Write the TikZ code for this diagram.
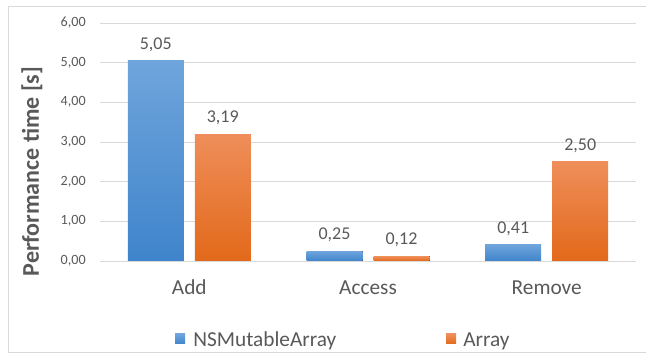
\documentclass[tikz,border=0pt]{standalone}
\usepackage{fontspec}
\setmainfont{Carlito}

\definecolor{txtgray}{HTML}{595959}
\definecolor{gridgray}{HTML}{D9D9D9}
\definecolor{bluetop}{HTML}{6FA5DC}
\definecolor{bluebot}{HTML}{3F84CB}
\definecolor{orgtop}{HTML}{EF8E5A}
\definecolor{orgbot}{HTML}{E2691A}

\def\yu{39.7}

\begin{document}
\begin{tikzpicture}[x=0.75pt,y=0.75pt,
    bluebar/.style={top color=bluetop,bottom color=bluebot},
    orangebar/.style={top color=orgtop,bottom color=orgbot},
    vallabel/.style={anchor=base,inner sep=0pt,text=txtgray,font=\fontsize{13.5}{16}\selectfont},
    ticklabel/.style={anchor=east,inner sep=0pt,text=txtgray,font=\fontsize{10.6}{12}\selectfont},
    catlabel/.style={anchor=base,inner sep=0pt,text=txtgray,font=\fontsize{16}{19}\selectfont}]

    \useasboundingbox (0,0) rectangle (646,353);

    % frame
    \draw[gridgray] (8,1) rectangle (660,347);

    % grid lines and tick labels
    \foreach \v in {0,...,6}{
      \draw[gridgray] (100,{92+\yu*\v}) -- (636,{92+\yu*\v});
      \node[ticklabel] (tick\v) at (86,{92+\yu*\v}) {\v,00};
    }

    % draw bars
    \foreach \x/\cat/\va/\la/\vb/\lb [count=\i] in
      {189.3/Add/5.05/{5,05}/3.19/{3,19},
       368/Access/0.25/{0,25}/0.12/{0,12},
       546.7/Remove/0.41/{0,41}/2.50/{2,50}}{
      \fill[bluebar] (\x-61.5,92) rectangle (\x-5.5,{92+\yu*\va});
      \fill[orangebar] (\x+5.5,92) rectangle (\x+61.5,{92+\yu*\vb});
      \node[vallabel] (vala\i) at (\x-33.5,{103.5+\yu*\va}) {\la};
      \node[vallabel] (valb\i) at (\x+33.5,{103.5+\yu*\vb}) {\lb};
      \node[catlabel] (cat\i) at (\x,58) {\cat};
    }

    % axis title
    \node[rotate=90,text=txtgray,font=\bfseries\fontsize{18}{21}\selectfont] (ytitle) at (32,181.5) {Performance time [s]};

    % legend
    \fill[bluebar] (175,9) rectangle (185,19);
    \node[catlabel,anchor=base west] (legA) at (193,6.3) {NSMutableArray};
    \fill[orangebar] (446,9) rectangle (456,19);
    \node[catlabel,anchor=base west] (legB) at (463,6.3) {Array};
\end{tikzpicture}
\end{document}
